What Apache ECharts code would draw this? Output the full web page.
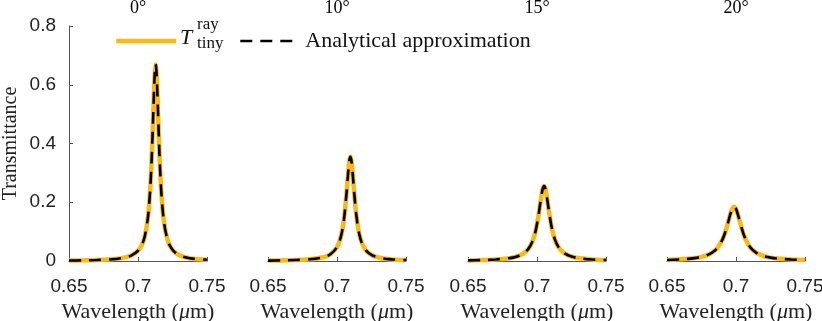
<!DOCTYPE html>
<html>
<head>
<meta charset="utf-8">
<script src="https://cdn.jsdelivr.net/npm/echarts@6/dist/echarts.min.js"></script>
<style>
  html, body { margin: 0; padding: 0; background: #fff; }
  #chart { width: 822px; height: 321px; }
</style>
</head>
<body>
<div id="chart"></div>
<script>
// panel titles (incidence angle)
const angles = ["0°", "10°", "15°", "20°"];

// wavelength (um) and transmittance
const wl0 = [0.65, 0.66, 0.67, 0.68, 0.69, 0.695, 0.7, 0.703, 0.705, 0.707, 0.708, 0.709, 0.71, 0.711, 0.712, 0.7128, 0.7135, 0.7145, 0.7155, 0.7165, 0.7175, 0.719, 0.721, 0.723, 0.726, 0.73, 0.735, 0.74, 0.75];
const t0 = [0.0015, 0.0022, 0.0033, 0.0056, 0.0114, 0.0185, 0.035, 0.057, 0.086, 0.141, 0.188, 0.257, 0.358, 0.493, 0.626, 0.67, 0.635, 0.507, 0.37, 0.266, 0.194, 0.127, 0.079, 0.053, 0.033, 0.0198, 0.012, 0.008, 0.0043];

const wl10 = [0.65, 0.66, 0.67, 0.68, 0.69, 0.695, 0.7, 0.703, 0.705, 0.707, 0.708, 0.709, 0.7097, 0.7105, 0.7115, 0.7125, 0.714, 0.716, 0.718, 0.721, 0.725, 0.73, 0.735, 0.74, 0.75];
const t10 = [0.0014, 0.0021, 0.0032, 0.0057, 0.0127, 0.0222, 0.0472, 0.0864, 0.14, 0.236, 0.296, 0.343, 0.355, 0.34, 0.29, 0.23, 0.156, 0.0947, 0.0615, 0.036, 0.0206, 0.012, 0.0078, 0.0055, 0.0031];

const wl15 = [0.65, 0.66, 0.67, 0.68, 0.685, 0.69, 0.694, 0.697, 0.699, 0.701, 0.7025, 0.704, 0.7051, 0.706, 0.7075, 0.709, 0.711, 0.713, 0.716, 0.72, 0.725, 0.73, 0.74, 0.75];
const t15 = [0.0021, 0.0031, 0.0051, 0.0097, 0.0148, 0.0252, 0.043, 0.0704, 0.1025, 0.1525, 0.2007, 0.243, 0.255, 0.247, 0.207, 0.1586, 0.1066, 0.0729, 0.0443, 0.0258, 0.0151, 0.0099, 0.0051, 0.0031];

const wl20 = [0.65, 0.66, 0.67, 0.675, 0.68, 0.684, 0.687, 0.69, 0.692, 0.694, 0.696, 0.6975, 0.6986, 0.7, 0.702, 0.704, 0.706, 0.708, 0.711, 0.715, 0.72, 0.725, 0.73, 0.74, 0.75];
const t20 = [0.0036, 0.0056, 0.0099, 0.0142, 0.0218, 0.033, 0.0473, 0.0712, 0.0953, 0.127, 0.161, 0.18, 0.185, 0.1775, 0.148, 0.1134, 0.0847, 0.0636, 0.0428, 0.0271, 0.017, 0.0115, 0.0083, 0.0049, 0.0032];

// axis ranges / ticks
const xRange = [0.65, 0.75];
const xStep = 0.05;
const yRange = [0, 0.8];
const yStep = 0.2;

const panels = [
  { wl: wl0, t: t0 },
  { wl: wl10, t: t10 },
  { wl: wl15, t: t15 },
  { wl: wl20, t: t20 },
];

const serif = "Liberation Serif";
const sans = "Liberation Sans";
const axisColor = "#555";
const orange = "#FDB813";

const gridLefts = [69, 268, 468, 667];
const gridW = 138;

const chart = echarts.init(document.getElementById("chart"));

const grids = [];
const xAxes = [];
const yAxes = [];
const titles = [];
const series = [];

panels.forEach((p, i) => {
  grids.push({ left: gridLefts[i], top: 26, width: gridW, height: 235, outerBoundsMode: "none" });

  titles.push({
    text: angles[i],
    left: gridLefts[i] + gridW / 2,
    top: -1,
    padding: 0,
    textAlign: "center",
    textStyle: { fontFamily: serif, fontSize: 18, fontWeight: "normal", color: "#000" },
  });

  xAxes.push({
    gridIndex: i,
    type: "value",
    min: xRange[0],
    max: xRange[1],
    interval: xStep,
    name: "{n|Wavelength (}{mu|μ}{n|m)}",
    nameLocation: "middle",
    nameGap: 33,
    nameTextStyle: {
      fontFamily: serif,
      fontSize: 22,
      color: "#222",
      rich: {
        n: { fontFamily: serif, fontSize: 22, color: "#222" },
        mu: { fontFamily: serif, fontSize: 22, fontStyle: "italic", color: "#222" },
      },
    },
    axisLine: { lineStyle: { color: axisColor, width: 1 } },
    axisTick: { inside: true, length: 4, lineStyle: { color: axisColor } },
    axisLabel: { fontFamily: sans, fontSize: 19, color: "#222", margin: 16 },
    splitLine: { show: false },
  });

  yAxes.push({
    gridIndex: i,
    type: "value",
    min: yRange[0],
    max: yRange[1],
    interval: yStep,
    show: i === 0,
    name: i === 0 ? "Transmittance" : "",
    nameLocation: "middle",
    nameGap: 48,
    nameTextStyle: { fontFamily: serif, fontSize: 20, color: "#222" },
    axisLine: { show: true, lineStyle: { color: axisColor, width: 1 } },
    axisTick: { show: true, inside: true, length: 4, lineStyle: { color: axisColor } },
    axisLabel: { fontFamily: sans, fontSize: 19, color: "#222", margin: 13 },
    splitLine: { show: false },
  });

  const pts = p.wl.map((w, k) => [w, p.t[k]]);

  series.push({
    name: "T",
    type: "line",
    xAxisIndex: i,
    yAxisIndex: i,
    data: pts,
    symbol: "none",
    smooth: 0.3,
    clip: false,
    lineStyle: { color: orange, width: 4.5 },
    itemStyle: { color: orange },
    z: 2,
  });
  series.push({
    name: "Analytical approximation",
    type: "line",
    xAxisIndex: i,
    yAxisIndex: i,
    data: pts,
    symbol: "none",
    smooth: 0.3,
    clip: false,
    lineStyle: { color: "#000", width: 2.6, type: [12, 8] },
    itemStyle: { color: "#000" },
    z: 3,
  });
});

const legendBase = {
  top: 30,
  itemWidth: 60,
  itemHeight: 14,
  padding: 0,
  selectedMode: false,
  itemStyle: { opacity: 0, borderWidth: 0 },
  textStyle: { fontFamily: serif, fontSize: 22, color: "#111" },
};

chart.setOption({
  animation: false,
  textStyle: { fontFamily: serif },
  title: titles,
  grid: grids,
  xAxis: xAxes,
  yAxis: yAxes,
  legend: [
    {
      ...legendBase,
      left: 114,
      data: [{ name: "T", lineStyle: { color: orange, width: 4.5 } }],
      formatter: () => " ",
    },
    {
      ...legendBase,
      left: 239,
      data: [{ name: "Analytical approximation", lineStyle: { color: "#000", width: 2.6, type: [12, 8] } }],
    },
  ],
  // label of the first legend entry: T with sub/superscript
  graphic: [
    { type: "text", x: 180, y: 38, style: { text: "T", fontFamily: serif, fontSize: 22, fontStyle: "italic", fill: "#111", verticalAlign: "middle" } },
    { type: "text", x: 197, y: 25, style: { text: "ray", fontFamily: serif, fontSize: 17, fill: "#111", verticalAlign: "middle" } },
    { type: "text", x: 197, y: 44, style: { text: "tiny", fontFamily: serif, fontSize: 17, fill: "#111", verticalAlign: "middle" } },
  ],
  series: series,
});
</script>
</body>
</html>
